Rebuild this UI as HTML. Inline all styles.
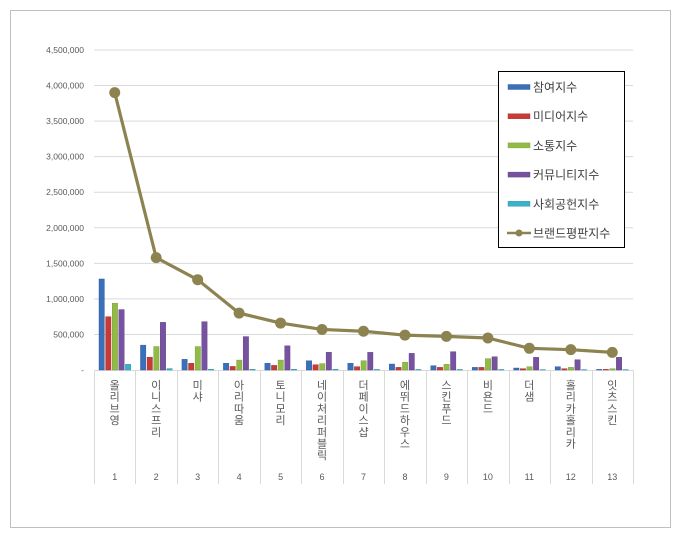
<!DOCTYPE html>
<html><head><meta charset="utf-8"><style>
html,body{margin:0;padding:0;background:#fff;}
svg text{font-family:"Liberation Sans","Noto Sans CJK KR",sans-serif;}
</style></head><body>
<svg width="680" height="539" xmlns="http://www.w3.org/2000/svg" id="chart">
<rect x="10.5" y="10.5" width="660" height="517" fill="#fff" stroke="#bfbfbf"/>
<g id="grid"></g>
<g id="yaxis"></g>
<g id="xaxis"></g>
<g id="bars"></g>
<g id="line"></g>
<g id="legend"></g>
</svg>
<script>
const categories=["올리브영","이니스프리","미샤","아리따움","토니모리","네이처리퍼블릭","더페이스샵","에뛰드하우스","스킨푸드","비욘드","더샘","홀리카홀리카","잇츠스킨"];
const ranks=["1","2","3","4","5","6","7","8","9","10","11","12","13"];
const participation=[1280000,350000,150000,95000,95000,130000,95000,84000,61000,37000,28000,47000,9000];
const media=[750000,180000,95000,50000,65000,75000,47000,37000,37000,37000,19000,19000,9000];
const communication=[940000,330000,330000,140000,140000,90000,131000,108000,80000,160000,47000,37000,19000];
const community=[850000,670000,680000,470000,340000,250000,248000,234000,258000,187000,178000,145000,178000];
const social=[80000,20000,10000,10000,10000,10000,8000,8000,8000,8000,6000,6000,6000];
const brandIndex=[3900000,1580000,1270000,800000,660000,570000,545000,490000,473000,450000,305000,286000,248000];
const yTicks=[0,500000,1000000,1500000,2000000,2500000,3000000,3500000,4000000,4500000];
const yTickLabels=["-","500,000","1,000,000","1,500,000","2,000,000","2,500,000","3,000,000","3,500,000","4,000,000","4,500,000"];
const seriesNames=["참여지수","미디어지수","소통지수","커뮤니티지수","사회공헌지수","브랜드평판지수"];

const NS="http://www.w3.org/2000/svg";
const X0=94,X1=633,Y0=370,Y1=50,YMAX=4500000;
const cw=(X1-X0)/categories.length;
const y=v=>Y0-(v/YMAX)*(Y0-Y1);
const xc=i=>X0+cw*(i+0.5);
function mk(p,tag,attrs){const e=document.createElementNS(NS,tag);for(const k in attrs)e.setAttribute(k,attrs[k]);p.appendChild(e);return e;}
const grid=document.getElementById('grid'),ya=document.getElementById('yaxis'),xa=document.getElementById('xaxis'),bars=document.getElementById('bars'),line=document.getElementById('line'),legend=document.getElementById('legend');
yTicks.forEach((t,i)=>{
  if(i>0){const g=mk(grid,'line',{x1:X0,x2:X1,y1:y(t),y2:y(t),stroke:'#d9d9d9','stroke-width':1});
  
  }
  const tx=mk(ya,'text',{x:84,y:y(t)+3,'text-anchor':'end','font-size':'8.5',fill:'#595959'});tx.textContent=yTickLabels[i];
  
  
});
mk(xa,'line',{x1:X0,x2:X1,y1:Y0+0.5,y2:Y0+0.5,stroke:'#d9d9d9'});
for(let i=0;i<=categories.length;i++){
  const sx=Math.round(X0+cw*i)+0.5;
  const s=mk(xa,'line',{x1:sx,x2:sx,y1:Y0,y2:484,stroke:'#d9d9d9'});
  
  
}
categories.forEach((c,i)=>{
  const t=mk(xa,'text',{'font-size':'11',fill:'#595959','text-anchor':'middle'});
  
  
  [...c].forEach((ch,k)=>{const ts=mk(t,'tspan',{x:xc(i),y:389+k*11.7});ts.textContent=ch;});
  const r=mk(xa,'text',{x:xc(i),y:480,'text-anchor':'middle','font-size':'9',fill:'#595959'});r.textContent=ranks[i];
  
  
});
const series=[participation,media,communication,community,social];
const colors=['#3a6fba','#c83a36','#92bb46','#7652a0','#3ab0c9'];
const dark=['#2a5597','#a02a27','#71953a','#5a3b7e','#2a8ea5'];
categories.forEach((c,i)=>{
  series.forEach((s,j)=>{
    const bx=X0+cw*i+5+j*6.6;
    const b=mk(bars,'rect',{x:bx,y:y(s[i]),width:5.4,height:Y0-y(s[i]),fill:colors[j],stroke:dark[j],'stroke-width':0.4});
    
    
  });
});
const pts=brandIndex.map((v,i)=>xc(i)+','+y(v)).join(' ');
const pl=mk(line,'polyline',{points:pts,fill:'none',stroke:'#8c8350','stroke-width':3.2});


brandIndex.forEach((v,i)=>{
  const p=mk(line,'circle',{cx:xc(i),cy:y(v),r:5.5,fill:'#8c8350'});
  
  
});
mk(legend,'rect',{x:498.5,y:71.5,width:126,height:176,fill:'#fff',stroke:'#000'});
seriesNames.forEach((n,k)=>{
  const ly=87+k*29.2;
  const g=mk(legend,'g',{});
  
  
  if(k<5){mk(g,'rect',{x:508,y:ly-2.5,width:22,height:5,fill:colors[k],stroke:dark[k],'stroke-width':0.4});}
  else{mk(g,'line',{x1:507,x2:531,y1:ly,y2:ly,stroke:'#8c8350','stroke-width':2.5});mk(g,'circle',{cx:519,cy:ly,r:3.5,fill:'#8c8350'});}
  const t=mk(g,'text',{x:533,y:ly+4.5,'font-size':'12',fill:'#404040'});t.textContent=n;
});
</script>
</body></html>
